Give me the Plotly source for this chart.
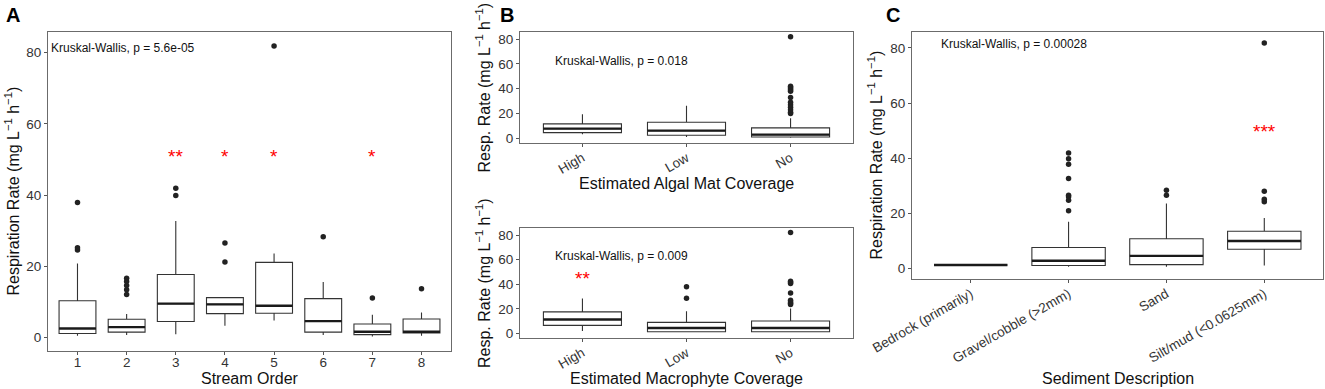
import plotly.graph_objects as go

W, H = 1325, 389

# ---------------- data ----------------
# Panel A: stream order
A_cats = ["1", "2", "3", "4", "5", "6", "7", "8"]
A_q1 = [1.1, 1.5, 4.5, 6.7, 6.8, 1.5, 0.8, 1.3]
A_med = [2.5, 2.9, 9.5, 9.3, 8.9, 4.6, 1.6, 1.6]
A_q3 = [10.3, 5.1, 17.7, 11.2, 21.1, 10.9, 3.8, 5.2]
A_lo = [0.5, 0.7, 0.9, 3.3, 4.8, 0.7, 0.3, 0.5]
A_hi = [20.8, 6.6, 32.7, 11.2, 23.6, 15.6, 6.4, 7.0]
A_out = [[24.6, 25.2, 37.9], [12.1, 13.4, 14.6, 15.7, 16.6], [39.9, 41.9], [21.2, 26.5],
         [81.9], [28.3], [11.1], [13.7]]
A_sig = ["", "", "**", "*", "*", "", "*", ""]
A_kw = "Kruskal-Wallis, p = 5.6e-05"

# Panel B (top): algal mat coverage
B1_cats = ["High", "Low", "No"]
B1_q1 = [4.6, 2.4, 1.1]
B1_med = [7.8, 6.2, 3.0]
B1_q3 = [11.6, 13.0, 8.4]
B1_lo = [3.2, 1.1, 0.5]
B1_hi = [19.5, 26.2, 16.2]
B1_out = [[], [], [20.0, 21.0, 23.0, 25.0, 27.0, 29.0, 33.0, 38.0, 39.0, 40.0, 41.0, 42.0, 82.0]]
B1_sig = ["", "", ""]
B1_kw = "Kruskal-Wallis, p = 0.018"

# Panel B (bottom): macrophyte coverage
B2_cats = ["High", "Low", "No"]
B2_q1 = [6.5, 1.3, 1.3]
B2_med = [11.3, 4.3, 4.3]
B2_q3 = [17.5, 8.9, 10.0]
B2_lo = [1.9, 0.8, 0.8]
B2_hi = [28.3, 18.0, 20.2]
B2_out = [[], [28.6, 38.0], [23.4, 24.5, 25.5, 27.0, 32.9, 40.5, 41.5, 42.5, 82.2]]
B2_sig = ["**", "", ""]
B2_kw = "Kruskal-Wallis, p = 0.009"

# Panel C: sediment description
C_cats = ["Bedrock (primarily)", "Gravel/cobble (>2mm)", "Sand", "Silt/mud (<0.0625mm)"]
C_q1 = [1.3, 1.1, 1.4, 7.0]
C_med = [1.3, 2.8, 4.6, 10.0]
C_q3 = [1.3, 7.6, 10.8, 13.5]
C_lo = [1.3, 0.6, 0.6, 1.1]
C_hi = [1.3, 17.0, 23.6, 18.3]
C_out = [[], [21.0, 24.8, 26.0, 26.6, 32.7, 37.8, 39.8, 41.9], [26.6, 28.4], [24.2, 25.1, 28.0, 81.8]]
C_sig = ["", "", "", "***"]
C_kw = "Kruskal-Wallis, p = 0.00028"

Y_TICKS = [0, 20, 40, 60, 80]
Y_RANGE = [-3.8, 85.8]

FONT = "Liberation Sans, Arial, Helvetica, sans-serif"
BOXW = 0.75

fig = go.Figure()


def px_x(p):
    return p / W


def px_y(p):
    return 1 - p / H


panels = [
    dict(cats=A_cats, q1=A_q1, med=A_med, q3=A_q3, lo=A_lo, hi=A_hi, out=A_out, sig=A_sig, kw=A_kw,
         ax="", xd=(48, 451), yd=(32, 351), xt="Stream Order", xty=378, ytx=12,
         yt="Respiration Rate (mg L<sup>−1</sup> h<sup>−1</sup>)", ang=0, tls=-4,
         kwx=0.42, kwy=81.4, kwa="left", sigy=51.9),
    dict(cats=B1_cats, q1=B1_q1, med=B1_med, q3=B1_q3, lo=B1_lo, hi=B1_hi, out=B1_out, sig=B1_sig, kw=B1_kw,
         ax="2", xd=(520, 853), yd=(32, 143), xt="Estimated Algal Mat Coverage", xty=183, ytx=483,
         yt="Resp. Rate (mg L<sup>−1</sup> h<sup>−1</sup>)", ang=-30, tls=-2,
         kwx=1.38, kwy=62.4, kwa="center", sigy=48.0),
    dict(cats=B2_cats, q1=B2_q1, med=B2_med, q3=B2_q3, lo=B2_lo, hi=B2_hi, out=B2_out, sig=B2_sig, kw=B2_kw,
         ax="3", xd=(520, 853), yd=(228, 338), xt="Estimated Macrophyte Coverage", xty=378, ytx=483,
         yt="Resp. Rate (mg L<sup>−1</sup> h<sup>−1</sup>)", ang=-30, tls=-2,
         kwx=1.38, kwy=63.3, kwa="center", sigy=48.2),
    dict(cats=C_cats, q1=C_q1, med=C_med, q3=C_q3, lo=C_lo, hi=C_hi, out=C_out, sig=C_sig, kw=C_kw,
         ax="4", xd=(912, 1323), yd=(32, 279), xt="Sediment Description", xty=378, ytx=875,
         yt="Respiration Rate (mg L<sup>−1</sup> h<sup>−1</sup>)", ang=-30, tls=-2,
         kwx=1.44, kwy=81.4, kwa="center", sigy=51.0),
]

layout = dict(
    width=W, height=H, margin=dict(l=0, r=0, t=0, b=0),
    paper_bgcolor="white", plot_bgcolor="white", showlegend=False,
    font=dict(family=FONT, color="#222"),
)
annotations = []
TITLE_FONT = dict(size=16, color="#111", family=FONT)

for p in panels:
    n = len(p["cats"])
    pos = list(range(1, n + 1))
    xa = "x" + p["ax"]
    ya = "y" + p["ax"]
    fig.add_trace(go.Box(
        x=pos, q1=p["q1"], median=p["med"], q3=p["q3"],
        lowerfence=p["lo"], upperfence=p["hi"],
        width=BOXW, whiskerwidth=0, boxpoints=False,
        fillcolor="white", line=dict(color="#333333", width=1.1),
        xaxis=xa, yaxis=ya, hoverinfo="skip",
    ))
    # thick median bars (ggplot style)
    mx, my = [], []
    for xi, m in zip(pos, p["med"]):
        mx += [xi - BOXW / 2, xi + BOXW / 2, None]
        my += [m, m, None]
    fig.add_trace(go.Scatter(x=mx, y=my, mode="lines", line=dict(color="#1a1a1a", width=2.4),
                             xaxis=xa, yaxis=ya, hoverinfo="skip"))
    # outliers
    ox, oy = [], []
    for xi, vals in zip(pos, p["out"]):
        ox += [xi] * len(vals)
        oy += vals
    fig.add_trace(go.Scatter(x=ox, y=oy, mode="markers",
                             marker=dict(color="#222222", size=5.5),
                             xaxis=xa, yaxis=ya, hoverinfo="skip"))
    # significance stars
    for xi, s in zip(pos, p["sig"]):
        if s:
            annotations.append(dict(x=xi, y=p["sigy"], xref=xa, yref=ya, text=s, showarrow=False,
                                    font=dict(size=19, color="red", family=FONT), yanchor="middle",
                                    yshift=-4))
    annotations.append(dict(x=p["kwx"], y=p["kwy"], xref=xa, yref=ya, text=p["kw"], showarrow=False,
                            xanchor=p["kwa"], yanchor="middle",
                            font=dict(size=12, color="#111", family=FONT)))
    # axis titles
    annotations.append(dict(x=px_x((p["xd"][0] + p["xd"][1]) / 2), y=px_y(p["xty"]), xref="paper", yref="paper",
                            text=p["xt"], showarrow=False, xanchor="center", yanchor="middle", font=TITLE_FONT))
    annotations.append(dict(x=px_x(p["ytx"]), y=px_y((p["yd"][0] + p["yd"][1]) / 2), xref="paper", yref="paper",
                            text=p["yt"], showarrow=False, xanchor="center", yanchor="middle", textangle=-90,
                            font=TITLE_FONT))

    key = "xaxis" + p["ax"]
    ykey = "yaxis" + p["ax"]
    layout[key] = dict(
        domain=[px_x(p["xd"][0]), px_x(p["xd"][1])], anchor=ya, automargin=False,
        range=[0.4, n + 0.6], tickvals=pos, ticktext=p["cats"], tickangle=p["ang"],
        ticklabelstandoff=p["tls"],
        showline=True, mirror=True, linecolor="#6b6b6b", linewidth=1,
        ticks="outside", ticklen=3, tickcolor="#555", tickwidth=1,
        showgrid=False, zeroline=False,
        tickfont=dict(size=13.5, color="#333", family=FONT),
    )
    layout[ykey] = dict(
        domain=[px_y(p["yd"][1]), px_y(p["yd"][0])], anchor=xa, automargin=False,
        range=Y_RANGE, tickvals=Y_TICKS,
        showline=True, mirror=True, linecolor="#6b6b6b", linewidth=1,
        ticks="outside", ticklen=3, tickcolor="#555", tickwidth=1,
        showgrid=False, zeroline=False,
        tickfont=dict(size=13.5, color="#333", family=FONT),
    )

for letter, xpx in [("A", 13), ("B", 507), ("C", 893)]:
    annotations.append(dict(x=px_x(xpx), y=px_y(15), xref="paper", yref="paper", text="<b>" + letter + "</b>",
                            showarrow=False, xanchor="center", yanchor="middle",
                            font=dict(size=20, color="black", family=FONT)))

layout["annotations"] = annotations
fig.update_layout(**layout)
fig.write_html("out.html", config={"displayModeBar": False},
               post_script="document.body.style.margin='0';document.body.style.padding='0';")
